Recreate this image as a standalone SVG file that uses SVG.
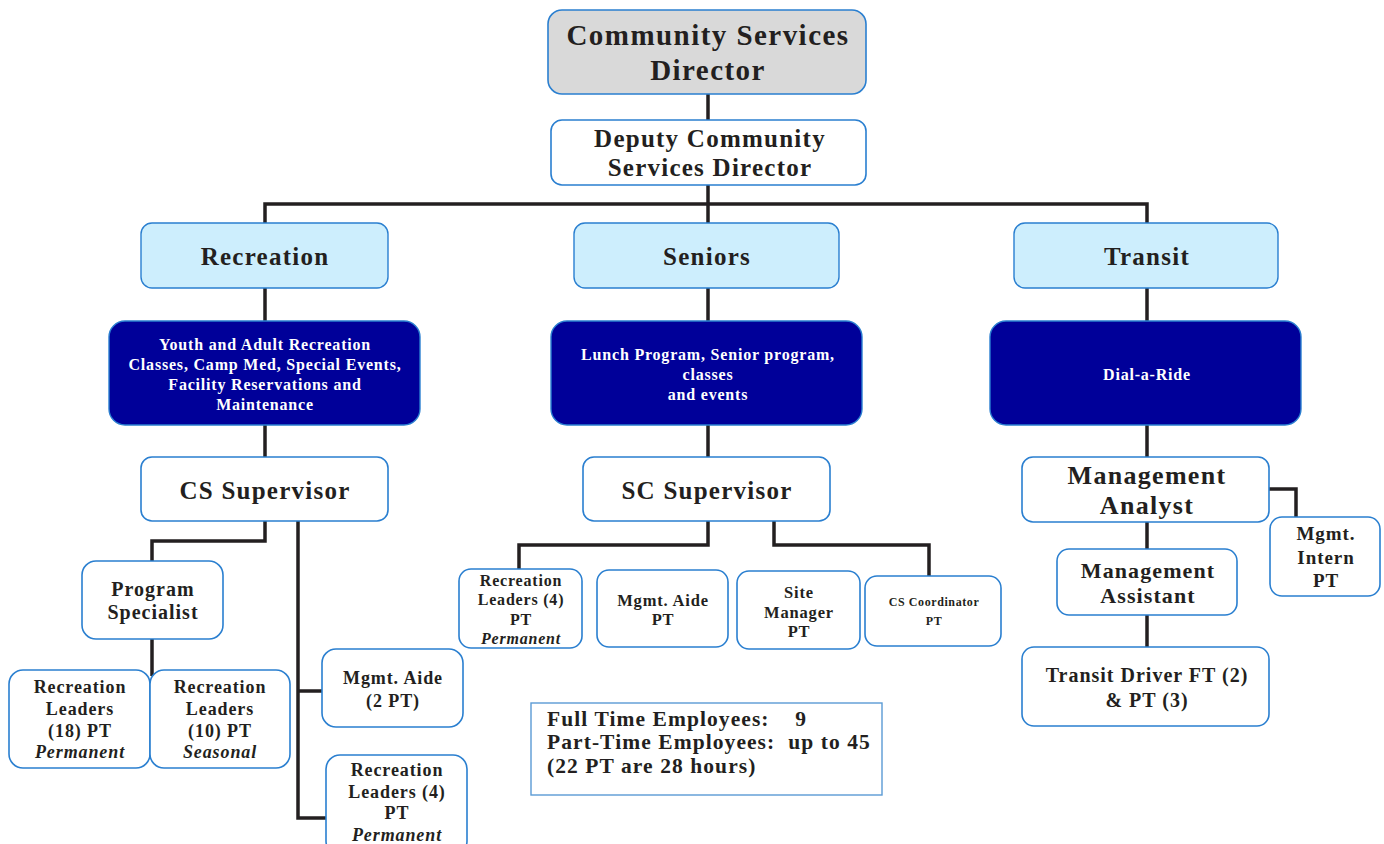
<svg xmlns="http://www.w3.org/2000/svg" width="1384" height="844" viewBox="0 0 1384 844">
<style>
.box{fill:#ffffff;stroke:#2a7fd0;stroke-width:1.6}
.grey{fill:#d9d9d9;stroke:#2a7fd0;stroke-width:1.6}
.lb{fill:#cdeefd;stroke:#2a7fd0;stroke-width:1.4}
.dk{fill:#000099;stroke:#2a7fd0;stroke-width:1.4}
.sum{fill:#ffffff;stroke:#5b9bd5;stroke-width:1.4}
text{font-family:"Liberation Serif","Times New Roman",serif;font-weight:bold;fill:#231f20;text-anchor:middle;letter-spacing:0.05em}
.w{fill:#ffffff}
.it{font-style:italic}
.l{text-anchor:start}
.conn{fill:none;stroke:#231f20;stroke-width:3.5;stroke-linejoin:miter}
</style>
<rect width="1384" height="844" fill="#ffffff"/>
<g id="connectors" class="conn">
<path d="M708,94V120"/>
<path d="M708,185V223"/>
<path d="M265,223V204H1147V223"/>
<path d="M265,288V321M708,288V321M1147,288V321"/>
<path d="M265,425V457M708,425V457M1147,425V457"/>
<path d="M265,521V541H152V561"/>
<path d="M152,639V676"/>
<path d="M298,521V818H326M298,691H322"/>
<path d="M708,521V545H519V569"/>
<path d="M774,521V545H929V576"/>
<path d="M1147,521V549"/>
<path d="M1269,489H1296V517"/>
<path d="M1147,615V647"/>
</g>
<g id="director"><rect class="grey" x="548" y="10" width="318" height="84" rx="14"/><text font-size="29" x="708" y="45">Community Services</text><text font-size="29" x="708" y="80">Director</text></g>
<g id="deputy"><rect class="box" x="551" y="120" width="315" height="65" rx="11"/><text font-size="25" x="710" y="147">Deputy Community</text><text font-size="25" x="710" y="176">Services Director</text></g>
<g id="recreation"><rect class="lb" x="141" y="223" width="247" height="65" rx="11"/><text font-size="25" x="265" y="265">Recreation</text></g>
<g id="seniors"><rect class="lb" x="574" y="223" width="265" height="65" rx="11"/><text font-size="25" x="707" y="265">Seniors</text></g>
<g id="transit"><rect class="lb" x="1014" y="223" width="264" height="65" rx="11"/><text font-size="25" x="1147" y="265">Transit</text></g>
<g id="rec-programs"><rect class="dk" x="109" y="321" width="311" height="104" rx="16"/><text class="w" font-size="16" x="265" y="350">Youth and Adult Recreation</text><text class="w" font-size="16" x="265" y="370">Classes, Camp Med, Special Events,</text><text class="w" font-size="16" x="265" y="390">Facility Reservations and</text><text class="w" font-size="16" x="265" y="410">Maintenance</text></g>
<g id="senior-programs"><rect class="dk" x="551" y="321" width="311" height="104" rx="16"/><text class="w" font-size="16" x="708" y="360">Lunch Program, Senior program,</text><text class="w" font-size="16" x="708" y="380">classes</text><text class="w" font-size="16" x="708" y="400">and events</text></g>
<g id="dial-a-ride"><rect class="dk" x="990" y="321" width="311" height="104" rx="16"/><text class="w" font-size="16" x="1147" y="380">Dial-a-Ride</text></g>
<g id="cs-supervisor"><rect class="box" x="141" y="457" width="247" height="64" rx="11"/><text font-size="25" x="265" y="499">CS Supervisor</text></g>
<g id="sc-supervisor"><rect class="box" x="583" y="457" width="247" height="64" rx="11"/><text font-size="25" x="707" y="499">SC Supervisor</text></g>
<g id="mgmt-analyst"><rect class="box" x="1022" y="457" width="247" height="65" rx="11"/><text font-size="26" x="1147" y="484">Management</text><text font-size="26" x="1147" y="514">Analyst</text></g>
<g id="program-specialist"><rect class="box" x="82" y="561" width="141" height="78" rx="14"/><text font-size="20" x="153" y="596">Program</text><text font-size="20" x="153" y="619">Specialist</text></g>
<g id="rec-leaders-18"><rect class="box" x="9" y="670" width="141" height="98" rx="14"/><text font-size="18" x="80" y="693">Recreation</text><text font-size="18" x="80" y="715">Leaders</text><text font-size="18" x="80" y="737">(18) PT</text><text class="it" font-size="18" x="80" y="758">Permanent</text></g>
<g id="rec-leaders-10"><rect class="box" x="150" y="670" width="140" height="98" rx="14"/><text font-size="18" x="220" y="693">Recreation</text><text font-size="18" x="220" y="715">Leaders</text><text font-size="18" x="220" y="737">(10) PT</text><text class="it" font-size="18" x="220" y="758">Seasonal</text></g>
<g id="mgmt-aide-2pt"><rect class="box" x="322" y="649" width="141" height="78" rx="14"/><text font-size="18" x="393" y="684">Mgmt. Aide</text><text font-size="18" x="393" y="707">(2 PT)</text></g>
<g id="rec-leaders-4-cs"><rect class="box" x="326" y="755" width="141" height="100" rx="14"/><text font-size="18" x="397" y="776">Recreation</text><text font-size="18" x="397" y="798">Leaders (4)</text><text font-size="18" x="397" y="819">PT</text><text class="it" font-size="18" x="397" y="841">Permanent</text></g>
<g id="rec-leaders-4-sc"><rect class="box" x="459" y="569" width="123" height="79" rx="12"/><text font-size="16" x="521" y="586">Recreation</text><text font-size="16" x="521" y="605">Leaders (4)</text><text font-size="16" x="521" y="625">PT</text><text class="it" font-size="16" x="521" y="644">Permanent</text></g>
<g id="mgmt-aide-pt"><rect class="box" x="597" y="570" width="131" height="77" rx="12"/><text font-size="16.5" x="663" y="606">Mgmt. Aide</text><text font-size="16.5" x="663" y="625">PT</text></g>
<g id="site-manager"><rect class="box" x="737" y="571" width="123" height="78" rx="12"/><text font-size="16.5" x="799" y="598">Site</text><text font-size="16.5" x="799" y="618">Manager</text><text font-size="16.5" x="799" y="637">PT</text></g>
<g id="cs-coordinator"><rect class="box" x="865" y="576" width="136" height="70" rx="12"/><text font-size="12" x="934" y="606">CS Coordinator</text><text font-size="12" x="934" y="625">PT</text></g>
<g id="mgmt-intern"><rect class="box" x="1270" y="517" width="110" height="79" rx="12"/><text font-size="19" x="1326" y="540">Mgmt.</text><text font-size="19" x="1326" y="564">Intern</text><text font-size="19" x="1326" y="587">PT</text></g>
<g id="mgmt-assistant"><rect class="box" x="1057" y="549" width="180" height="66" rx="12"/><text font-size="22" x="1148" y="578">Management</text><text font-size="22" x="1148" y="603">Assistant</text></g>
<g id="transit-driver"><rect class="box" x="1022" y="647" width="247" height="79" rx="12"/><text font-size="20" x="1147" y="682">Transit Driver FT (2)</text><text font-size="20" x="1147" y="707">&amp; PT (3)</text></g>
<g id="summary"><rect class="sum" x="531" y="703" width="351" height="92"/><text class="l" font-size="21.5" x="547" y="726" xml:space="preserve">Full Time Employees:    9</text><text class="l" font-size="21.5" x="547" y="749" xml:space="preserve">Part-Time Employees:  up to 45</text><text class="l" font-size="21.5" x="547" y="773">(22 PT are 28 hours)</text></g>
</svg>
